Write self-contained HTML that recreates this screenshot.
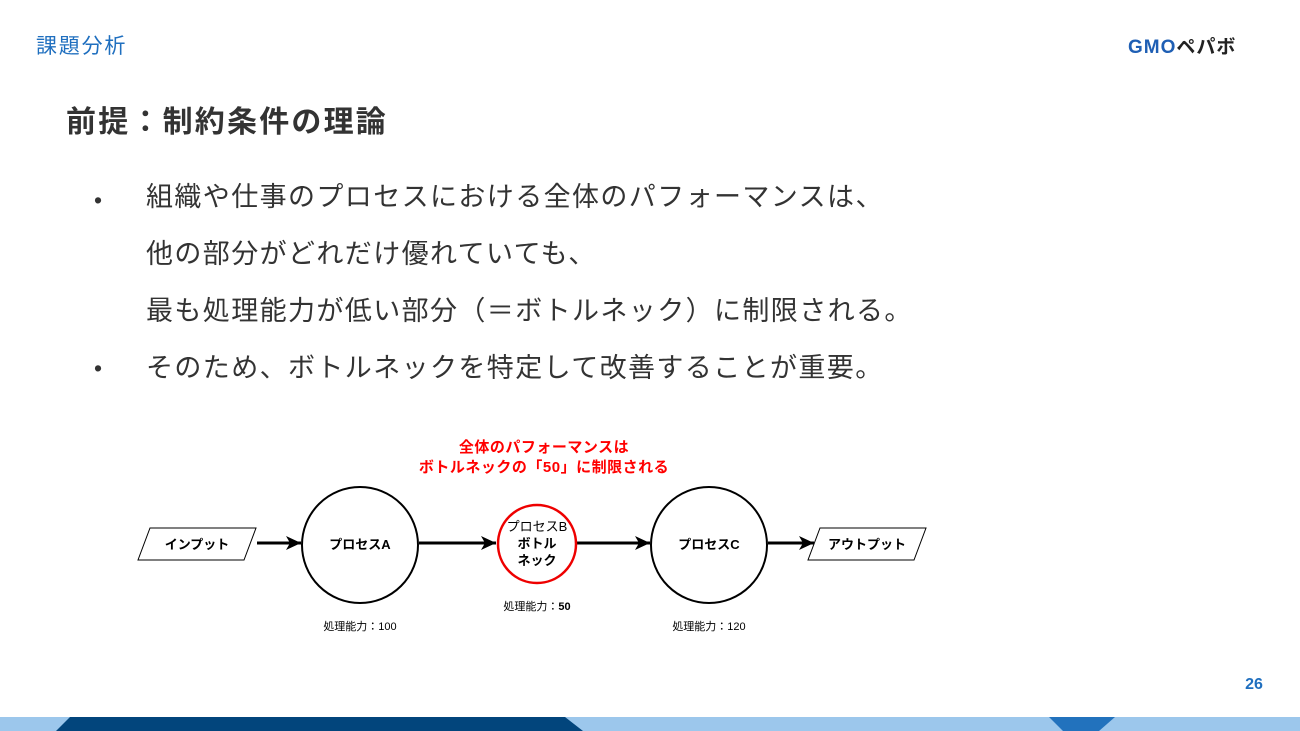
<!DOCTYPE html>
<html><head><meta charset="utf-8"><style>
body{margin:0;width:1300px;height:731px;background:#fff;position:relative;overflow:hidden;font-family:"Liberation Sans","Noto Sans CJK JP",sans-serif;}
.a{position:absolute;white-space:nowrap}
</style></head><body>
<div class="a" style="left:36px;top:30px;font-size:21px;letter-spacing:1.8px;color:#1f6fbf">課題分析</div>
<div class="a" style="left:1128px;top:32px;font-size:19px;font-weight:bold;color:#1f5fb4;letter-spacing:1px">GMO<span style="color:#222">ペパボ</span></div>
<div class="a" style="left:66px;top:97px;font-size:30px;font-weight:bold;color:#333;letter-spacing:2.2px">前提：制約条件の理論</div>
<div class="a" style="left:94px;top:185px;font-size:23px;color:#333;line-height:30px">•</div>
<div class="a" style="left:94px;top:353px;font-size:23px;color:#333;line-height:30px">•</div>
<div class="a" style="left:146px;top:169px;font-size:27px;letter-spacing:1.4px;color:#333;line-height:57px">組織や仕事のプロセスにおける全体のパフォーマンスは、<br>他の部分がどれだけ優れていても、<br>最も処理能力が低い部分（＝ボトルネック）に制限される。<br>そのため、ボトルネックを特定して改善することが重要。</div>
<svg class="a" style="left:0;top:0" width="1300" height="731">
<defs><marker id="m" markerWidth="16" markerHeight="16" refX="15" refY="8" orient="auto" markerUnits="userSpaceOnUse"><path d="M0,1 L15,8 L0,15 L4,8z" fill="#000"/></marker></defs>
<g font-family="Liberation Sans, Noto Sans CJK JP, sans-serif" text-anchor="middle">
<text x="544" y="452" font-size="15" font-weight="bold" fill="#f00" letter-spacing="0.5">全体のパフォーマンスは</text>
<text x="544" y="472" font-size="15" font-weight="bold" fill="#f00" letter-spacing="0.5">ボトルネックの「50」に制限される</text>
<polygon points="150,528 256,528 244,560 138,560" fill="#fff" stroke="#000" stroke-width="1"/>
<polygon points="820,528 926,528 914,560 808,560" fill="#fff" stroke="#000" stroke-width="1"/>
<text x="197" y="549" font-size="13" font-weight="bold">インプット</text>
<text x="867" y="549" font-size="13" font-weight="bold">アウトプット</text>
<g stroke="#000" stroke-width="3" marker-end="url(#m)">
<line x1="257" y1="543" x2="301" y2="543"/>
<line x1="419" y1="543" x2="496" y2="543"/>
<line x1="577" y1="543" x2="650" y2="543"/>
<line x1="768" y1="543" x2="814" y2="543"/>
</g>
<ellipse cx="360" cy="545" rx="58" ry="58" fill="#fff" stroke="#000" stroke-width="2"/>
<ellipse cx="709" cy="545" rx="58" ry="58" fill="#fff" stroke="#000" stroke-width="2"/>
<ellipse cx="537" cy="544" rx="39" ry="39" fill="#fff" stroke="#e00" stroke-width="2.5"/>
<text x="360" y="549" font-size="13" font-weight="bold">プロセスA</text>
<text x="709" y="549" font-size="13" font-weight="bold">プロセスC</text>
<text x="537" y="531" font-size="13">プロセスB</text>
<text x="537" y="548" font-size="13" font-weight="bold">ボトル</text>
<text x="537" y="565" font-size="13" font-weight="bold">ネック</text>
<text x="360" y="630" font-size="11">処理能力：100</text>
<text x="537" y="610" font-size="11">処理能力：<tspan font-weight="bold">50</tspan></text>
<text x="709" y="630" font-size="11">処理能力：120</text>
</g>
<text x="1254" y="689" font-family="Liberation Sans, sans-serif" font-size="16" font-weight="bold" fill="#1f6fbf" text-anchor="middle">26</text>
<rect x="0" y="717" width="1300" height="14" fill="#9cc7ec"/>
<polygon points="70,717 565,717 583,731 56,731" fill="#02457c"/>
<polygon points="1049,717 1115,717 1099,731 1063,731" fill="#2272bd"/>
</svg>
</body></html>
